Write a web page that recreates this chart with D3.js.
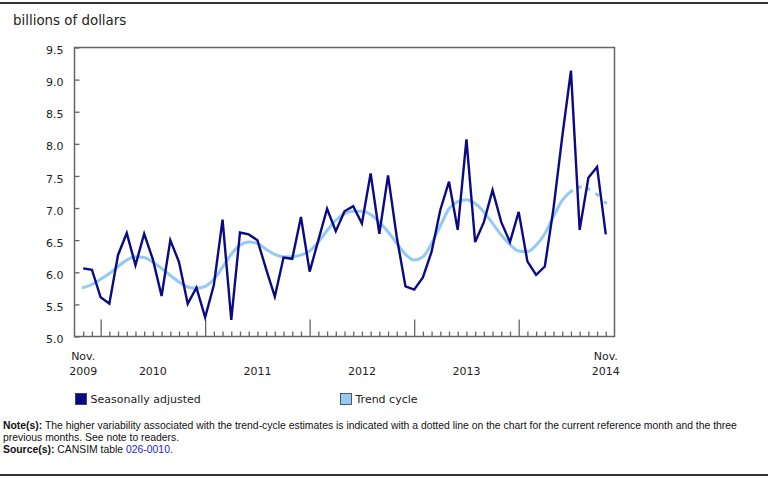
<!DOCTYPE html>
<html><head><meta charset="utf-8">
<script src="https://cdn.jsdelivr.net/npm/d3@7"></script>
<style>
html,body{margin:0;padding:0;background:#fff;}
svg{display:block;}
</style></head>
<body>
<svg id="chart" width="768" height="479"></svg>
<script>
// ---- data ----
const monthIndex = d3.range(0, 61); // Nov 2009 .. Nov 2014
const seasonallyAdjusted = [6.06,6.04,5.61,5.51,6.27,6.61,6.11,6.60,6.20,5.63,6.50,6.16,5.51,5.76,5.30,5.80,6.82,5.26,6.62,6.59,6.50,6.05,5.62,6.23,6.21,6.86,6.01,6.50,6.99,6.64,6.95,7.03,6.76,7.54,6.60,7.51,6.55,5.78,5.73,5.92,6.32,6.97,7.41,6.66,8.07,6.47,6.78,7.28,6.78,6.47,6.94,6.17,5.96,6.09,7.00,8.11,9.14,6.66,7.47,7.64,6.59];
const trendCycle = [5.76,5.81,5.89,5.98,6.09,6.19,6.24,6.23,6.16,6.06,5.95,5.85,5.77,5.75,5.78,5.89,6.08,6.28,6.42,6.47,6.45,6.36,6.28,6.24,6.24,6.27,6.33,6.47,6.65,6.81,6.91,6.95,6.95,6.90,6.78,6.63,6.45,6.28,6.19,6.24,6.45,6.72,6.99,7.10,7.13,7.07,6.94,6.76,6.58,6.43,6.33,6.32,6.42,6.60,6.87,7.12,7.26,7.33,7.30,7.21,7.08];
const yTicks = [5.0,5.5,6.0,6.5,7.0,7.5,8.0,8.5,9.0,9.5];
const yearTickIdx = [2,14,26,38,50];            // January of each year
const xLabels = [
  {i:0,  lines:["Nov.","2009"]},
  {i:8,  lines:["2010"]},
  {i:20, lines:["2011"]},
  {i:32, lines:["2012"]},
  {i:44, lines:["2013"]},
  {i:60, lines:["Nov.","2014"]}
];
const seriesNames = ["Seasonally adjusted","Trend cycle"];
const dottedFrom = 56; // trend-cycle dotted for last months

// ---- layout ----
const svg = d3.select("#chart");
const L = 74.5, R = 614.5, T = 47.5, B = 336.5;
const x = d3.scaleLinear().domain([-1, 61]).range([L, R]);
const y = d3.scaleLinear().domain([5, 9.5]).range([B, T]);
const axisColor = "#666";
const navy = "#0a0a84";
const light = "#94c9f5";
const font = "'DejaVu Sans', Verdana, sans-serif";

// top and bottom rules
svg.append("rect").attr("x",0).attr("y",2).attr("width",768).attr("height",2).attr("fill","#333");
svg.append("rect").attr("x",0).attr("y",474).attr("width",768).attr("height",2).attr("fill","#333");

// unit title
svg.append("text").attr("x",13).attr("y",25).attr("font-family",font).attr("font-size",13.4)
  .attr("fill","#222").text("billions of dollars");

// frame
svg.append("rect").attr("x",L).attr("y",T).attr("width",R-L).attr("height",B-T)
  .attr("fill","none").attr("stroke",axisColor).attr("stroke-width",1.5);

// y axis
const yAxis = d3.axisLeft(y).tickValues(yTicks).tickSize(-5).tickPadding(11)
  .tickFormat(d3.format(".1f"));
const gy = svg.append("g").attr("transform",`translate(${L},0)`).call(yAxis);
gy.select(".domain").remove();
gy.selectAll(".tick line").attr("stroke",axisColor).attr("stroke-width",1.3);
gy.selectAll(".tick text").attr("font-family",font).attr("font-size",11).attr("fill","#222")
  .attr("dy","0.55em").attr("y",0);

// x axis ticks
const xAxis = d3.axisBottom(x).tickValues(monthIndex).tickSize(-5).tickFormat("");
const gx = svg.append("g").attr("transform",`translate(0,${B})`).call(xAxis);
gx.select(".domain").remove();
gx.selectAll(".tick line").attr("stroke",axisColor).attr("stroke-width",1.3)
  .attr("y2", d => yearTickIdx.includes(d) ? -17 : -5);

// x labels
const xl = svg.append("g").attr("font-family",font).attr("font-size",11).attr("fill","#222")
  .attr("text-anchor","middle");
xLabels.forEach(l => {
  const t = xl.append("text").attr("x", x(l.i));
  if (l.lines.length === 2) {
    t.append("tspan").attr("x",x(l.i)).attr("y",360).text(l.lines[0]);
    t.append("tspan").attr("x",x(l.i)).attr("y",375).text(l.lines[1]);
  } else {
    t.attr("y",375).text(l.lines[0]);
  }
});

// lines
const lineGen = d3.line().x(d => x(d[0])).y(d => y(d[1]));
const trendSolid = d3.line().x(d => x(d[0])).y(d => y(d[1])).curve(d3.curveMonotoneX);
const trendPts = trendCycle.map((v,i) => [i,v]);

svg.append("path").datum(trendPts.filter(d => d[0] <= dottedFrom))
  .attr("d", trendSolid).attr("fill","none").attr("stroke",light)
  .attr("stroke-width",3).attr("stroke-linecap","round");

// dotted part: one dot at each month
const dotPts = trendPts.filter(d => d[0] >= dottedFrom);
const segLens = d3.pairs(dotPts).map(([a,b]) => Math.hypot(x(b[0])-x(a[0]), y(b[1])-y(a[1])));
const dotLen = 1.6;
const dash = segLens.flatMap(len => [dotLen, len - dotLen]).join(",");
svg.append("path").datum(dotPts)
  .attr("d", lineGen).attr("fill","none").attr("stroke",light)
  .attr("stroke-width",3.2).attr("stroke-dasharray",dash).attr("stroke-dashoffset",dotLen/2)
  .attr("stroke-linecap","round");

svg.append("path").datum(seasonallyAdjusted.map((v,i) => [i,v]))
  .attr("d", lineGen).attr("fill","none").attr("stroke",navy)
  .attr("stroke-width",2.4).attr("stroke-linejoin","miter");

// legend
const lg = svg.append("g").attr("font-family",font).attr("font-size",11).attr("fill","#222");
[[75, navy, seriesNames[0]],[340, light, seriesNames[1]]].forEach(([lx,c,name]) => {
  lg.append("rect").attr("x",lx+0.5).attr("y",393.5).attr("width",11).attr("height",11)
    .attr("fill",c).attr("stroke","#333").attr("stroke-width",0.8);
  lg.append("text").attr("x",lx+15.5).attr("y",403).text(name);
});

// notes
const nf = "'Liberation Sans', Arial, sans-serif";
const notes = svg.append("g").attr("font-family",nf).attr("font-size",10.4).attr("fill","#111");
const n1 = notes.append("text").attr("x",3).attr("y",428.5);
n1.append("tspan").attr("font-weight","bold").text("Note(s):");
n1.append("tspan").text(" The higher variability associated with the trend-cycle estimates is indicated with a dotted line on the chart for the current reference month and the three");
notes.append("text").attr("x",3).attr("y",440.5).text("previous months. See note to readers.");
const n3 = notes.append("text").attr("x",3).attr("y",452.5);
n3.append("tspan").attr("font-weight","bold").text("Source(s):");
n3.append("tspan").text(" CANSIM table ");
n3.append("tspan").attr("fill","#1a1ae6").text("026-0010");
n3.append("tspan").text(".");
</script>
</body></html>
